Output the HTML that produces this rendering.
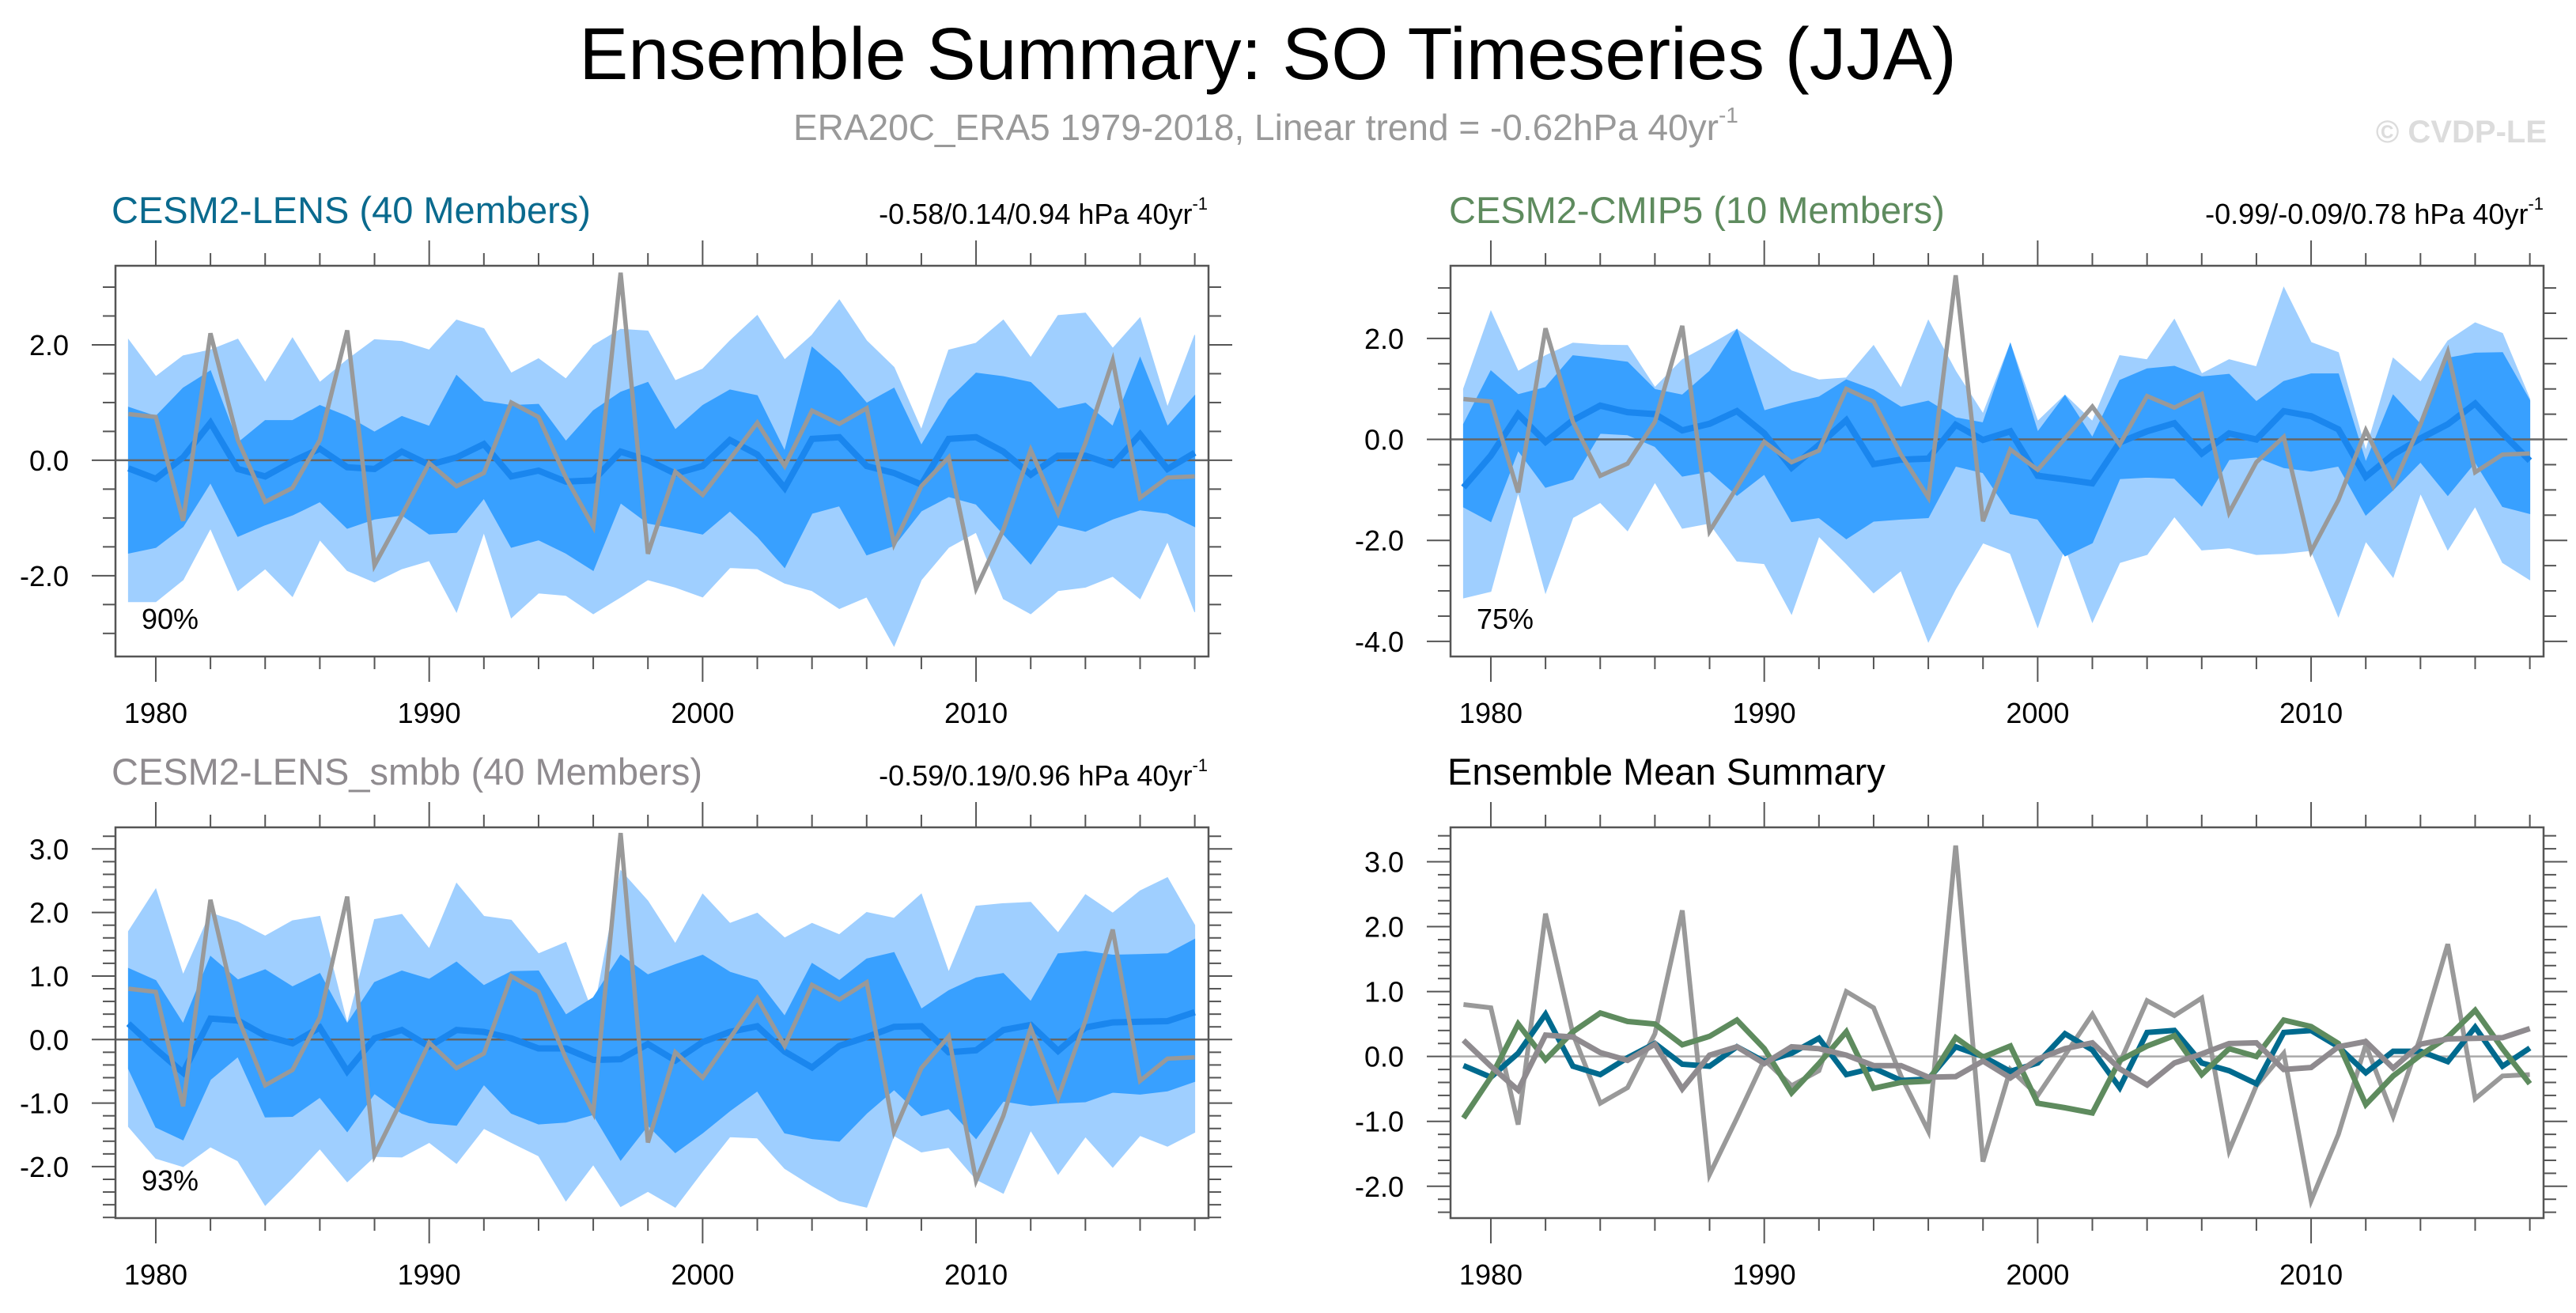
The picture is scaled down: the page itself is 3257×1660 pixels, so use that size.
<!DOCTYPE html>
<html><head><meta charset="utf-8"><style>
html,body{margin:0;padding:0;background:#fff;}
svg{display:block;font-family:"Liberation Sans",Arial,sans-serif;}
</style></head><body>
<svg id="chart" width="3257" height="1660" viewBox="0 0 3257 1660" xmlns="http://www.w3.org/2000/svg">
<rect width="3257" height="1660" fill="#fff"/>
<text x="1603" y="100" font-size="93" text-anchor="middle" fill="#000">Ensemble Summary: SO Timeseries (JJA)</text>
<text x="1003" y="177" font-size="46" fill="#999">ERA20C_ERA5 1979-2018, Linear trend = -0.62hPa 40yr<tspan font-size="28" dy="-22">-1</tspan></text>
<text x="3220" y="180" font-size="40" font-weight="bold" text-anchor="end" fill="#dcdcdc">© CVDP-LE</text>

<text x="141" y="282" font-size="47" fill="#0a6a8e">CESM2-LENS (40 Members)</text>
<text x="1527" y="283" font-size="36" text-anchor="end" fill="#000">-0.58/0.14/0.94 hPa 40yr<tspan font-size="22" dy="-18">-1</tspan></text>
<text x="1832" y="282" font-size="47" fill="#5e8b5e">CESM2-CMIP5 (10 Members)</text>
<text x="3216" y="283" font-size="36" text-anchor="end" fill="#000">-0.99/-0.09/0.78 hPa 40yr<tspan font-size="22" dy="-18">-1</tspan></text>
<text x="141" y="992" font-size="47" fill="#8f8b8f">CESM2-LENS_smbb (40 Members)</text>
<text x="1527" y="993" font-size="36" text-anchor="end" fill="#000">-0.59/0.19/0.96 hPa 40yr<tspan font-size="22" dy="-18">-1</tspan></text>
<text x="1830" y="992" font-size="47" fill="#000">Ensemble Mean Summary</text>
<g id="plots"></g>
</svg>
<script>
const years = [];
for (let yr = 1979; yr <= 2018; yr++) years.push(yr);
const obs = [0.8,0.75,-1.05,2.2,0.35,-0.72,-0.48,0.35,2.25,-1.82,-0.95,-0.05,-0.45,-0.22,1.0,0.75,-0.3,-1.15,3.25,-1.62,-0.2,-0.6,0.02,0.65,-0.1,0.86,0.63,0.9,-1.45,-0.45,0.05,-2.22,-1.2,0.18,-0.92,0.3,1.73,-0.65,-0.3,-0.28];
// CESM2-LENS
const lensMean = [-0.14,-0.32,0.05,0.65,-0.15,-0.28,-0.02,0.2,-0.12,-0.15,0.15,-0.08,0.05,0.28,-0.28,-0.18,-0.37,-0.35,0.15,0.0,-0.23,-0.1,0.35,0.1,-0.48,0.37,0.4,-0.1,-0.22,-0.42,0.37,0.4,0.15,-0.25,0.08,0.08,-0.08,0.45,-0.15,0.13];
const lensOuterHi = [2.09,1.45,1.81,1.91,2.1,1.35,2.12,1.35,1.74,2.09,2.06,1.91,2.43,2.28,1.51,1.76,1.41,1.99,2.27,2.24,1.38,1.58,2.07,2.51,1.74,2.17,2.78,2.07,1.61,0.53,1.91,2.03,2.43,1.78,2.51,2.55,1.94,2.47,0.92,2.17];
const lensInnerHi = [0.92,0.76,1.25,1.55,0.3,0.69,0.69,0.95,0.76,0.49,0.76,0.59,1.47,1.02,0.95,0.97,0.33,0.86,1.18,1.35,0.53,0.95,1.22,1.12,0.16,1.96,1.55,0.99,1.25,0.26,1.05,1.51,1.45,1.35,0.89,0.99,0.59,1.78,0.59,1.12];
const lensInnerLo = [-1.61,-1.51,-1.15,-0.39,-1.32,-1.12,-0.95,-0.72,-1.18,-1.02,-0.95,-1.28,-1.25,-0.66,-1.51,-1.38,-1.61,-1.91,-0.74,-1.09,-1.18,-1.28,-0.88,-1.32,-1.86,-0.92,-0.79,-1.64,-1.48,-0.88,-0.63,-0.76,-1.28,-1.8,-1.12,-1.23,-1.02,-0.86,-0.92,-1.15];
const lensOuterLo = [-2.45,-2.45,-2.07,-1.18,-2.26,-1.88,-2.36,-1.38,-1.91,-2.11,-1.88,-1.74,-2.63,-1.25,-2.73,-2.3,-2.34,-2.66,-2.37,-2.07,-2.2,-2.37,-1.86,-1.88,-2.13,-2.26,-2.57,-2.37,-3.22,-2.07,-1.51,-1.25,-2.4,-2.66,-2.26,-2.2,-2.01,-2.4,-1.41,-2.63];
// CESM2-CMIP5
const cmipMean = [-0.95,-0.32,0.5,-0.05,0.38,0.67,0.54,0.5,0.18,0.31,0.56,0.12,-0.56,-0.11,0.38,-0.49,-0.4,-0.38,0.29,-0.01,0.16,-0.72,-0.79,-0.87,-0.06,0.16,0.32,-0.28,0.12,0.0,0.56,0.46,0.2,-0.74,-0.3,0.02,0.3,0.71,0.12,-0.42];
const cmipOuterHi = [1.0,2.54,1.35,1.66,1.91,1.87,1.86,1.03,1.58,1.87,2.18,1.77,1.36,1.18,1.22,1.86,1.02,2.36,1.35,0.51,1.9,0.36,0.88,0.36,1.66,1.58,2.38,1.3,1.58,1.44,3.01,1.92,1.72,-0.22,1.61,1.14,1.95,2.31,2.1,0.8];
const cmipInnerHi = [0.3,1.36,0.89,1.03,1.66,1.6,1.53,0.99,0.88,1.35,2.18,0.57,0.72,0.84,1.18,0.98,0.64,0.76,0.43,0.33,1.9,0.15,0.87,0.04,1.17,1.4,1.45,1.24,1.29,0.75,1.15,1.3,1.3,-0.45,0.88,0.3,1.61,1.71,1.72,0.77];
const cmipInnerLo = [-1.34,-1.63,-0.22,-0.95,-0.79,0.12,0.09,-0.14,-0.73,-0.63,-1.11,-0.69,-1.63,-1.55,-1.97,-1.62,-1.58,-1.55,-0.53,-0.66,-1.47,-1.58,-2.31,-2.05,-0.78,-0.75,-0.77,-1.32,-0.4,-0.35,-0.56,-0.63,-0.53,-1.5,-1.0,-0.45,-1.11,-0.45,-1.33,-1.47];
const cmipOuterLo = [-3.14,-3.01,-1.05,-3.04,-1.55,-1.25,-1.81,-0.85,-1.76,-1.66,-2.41,-2.46,-3.46,-1.92,-2.46,-3.04,-2.6,-4.01,-2.96,-2.05,-2.26,-3.72,-2.13,-3.62,-2.44,-2.28,-1.53,-2.19,-2.15,-2.28,-2.26,-2.2,-3.51,-2.02,-2.73,-1.07,-2.19,-1.33,-2.44,-2.78];
// CESM2-LENS_smbb
const smbbMean = [0.25,-0.15,-0.52,0.33,0.3,0.06,-0.06,0.19,-0.5,0.02,0.15,-0.11,0.15,0.12,0.02,-0.14,-0.14,-0.32,-0.31,-0.07,-0.33,-0.04,0.12,0.21,-0.19,-0.44,-0.1,0.04,0.2,0.21,-0.2,-0.17,0.15,0.23,-0.18,0.19,0.27,0.28,0.29,0.43];
const smbbOuterHi = [1.7,2.37,1.02,1.99,1.85,1.63,1.87,1.94,0.25,1.89,1.97,1.43,2.46,1.94,1.88,1.35,1.53,0.39,2.66,2.18,1.51,2.29,1.83,1.99,1.6,1.83,1.65,2.0,1.91,2.29,1.06,2.1,2.14,2.16,1.68,2.28,1.99,2.34,2.55,1.8];
const smbbInnerHi = [1.12,0.93,0.25,1.31,0.94,1.1,0.83,1.04,0.25,0.9,1.08,0.95,1.22,0.85,1.07,1.08,0.39,0.66,1.33,1.02,1.18,1.33,1.06,0.93,0.37,1.2,0.93,1.27,1.37,0.48,0.77,0.97,1.04,0.6,1.35,1.39,1.33,1.34,1.35,1.58];
const smbbInnerLo = [-0.46,-1.38,-1.58,-0.63,-0.27,-1.22,-1.21,-0.91,-1.45,-0.85,-1.16,-1.31,-1.35,-0.71,-1.16,-1.33,-1.3,-1.18,-1.9,-1.35,-1.78,-1.47,-1.12,-0.81,-1.47,-1.56,-1.6,-1.16,-0.79,-1.2,-1.09,-1.56,-0.97,-1.04,-1.0,-0.98,-0.83,-0.86,-0.81,-0.66];
const smbbOuterLo = [-1.37,-1.87,-2.0,-1.69,-1.91,-2.61,-2.18,-1.72,-2.24,-1.84,-1.85,-1.62,-1.95,-1.4,-1.62,-1.83,-2.54,-1.97,-2.63,-2.39,-2.64,-2.07,-1.53,-1.55,-2.03,-2.3,-2.54,-2.64,-1.51,-1.77,-1.7,-2.2,-2.42,-1.43,-2.12,-1.53,-2.01,-1.51,-1.68,-1.46];
const xTickLabels = [1980,1990,2000,2010];

const NS = 'http://www.w3.org/2000/svg';
const root = document.getElementById('plots');
function mk(tag, attrs, parent){const e=document.createElementNS(NS,tag);for(const k in attrs)e.setAttribute(k,attrs[k]);(parent||root).appendChild(e);return e;}

function panel(cfg){
  const g = mk('g',{});
  
  
  const L=cfg.x, T=cfg.y, W=1382, H=494;
  const xs = yr => L + 16.4 + (yr-1979)*34.57;
  const ys = v => T + (cfg.ymax - v)/(cfg.ymax - cfg.ymin)*H;
  const pts = arr => arr.map((v,i)=>xs(years[i]).toFixed(1)+','+ys(v).toFixed(1));
  const band = (hi,lo,col,nm)=>{
    const p = pts(hi).concat(pts(lo).reverse());
    const e = mk('polygon',{points:p.join(' '),fill:col,stroke:col,'stroke-width':1},g);
    
    
  };
  const line = (arr,col,w,nm)=>{
    const e = mk('polyline',{points:pts(arr).join(' '),fill:'none',stroke:col,'stroke-width':w,'stroke-linejoin':'miter'},g);
    
    
  };
  if(cfg.bands){
    band(cfg.bands[0],cfg.bands[3],'#9fcfff','outer-percentile-band');
    band(cfg.bands[1],cfg.bands[2],'#38a0ff','inner-percentile-band');
  }
  const z = mk('line',{x1:L,x2:L+W,y1:ys(0),y2:ys(0),stroke:cfg.bands?'#666':'#aaa','stroke-width':2.5},g);
  
  
  cfg.lines.forEach(l=>line(l[0],l[1],l[2],l[3]));
  const fr = mk('rect',{x:L,y:T,width:W,height:H,fill:'none',stroke:'#555','stroke-width':2.5},g);
  
  
  for(let yr=1980; yr<=2018; yr+=2){
    const maj = yr%10===0, len = maj?32:16, x=xs(yr);
    mk('line',{x1:x,x2:x,y1:T,y2:T-len,stroke:'#555','stroke-width':2},g);
    mk('line',{x1:x,x2:x,y1:T+H,y2:T+H+len,stroke:'#555','stroke-width':2},g);
  }
  xTickLabels.forEach(yr=>{
    const t = mk('text',{x:xs(yr),y:T+H+84,'font-size':36,'text-anchor':'middle',fill:'#000'},g);
    t.textContent = yr;
    
    
  });
  const nMin = Math.ceil(cfg.ymin/cfg.minor-1e-6), nMax = Math.floor(cfg.ymax/cfg.minor+1e-6);
  for(let n=nMin;n<=nMax;n++){
    const v = n*cfg.minor, y=ys(v);
    const maj = Math.abs(v/cfg.major - Math.round(v/cfg.major))<1e-6;
    const len = maj?30:16;
    mk('line',{x1:L,x2:L-len,y1:y,y2:y,stroke:'#555','stroke-width':2},g);
    mk('line',{x1:L+W,x2:L+W+len,y1:y,y2:y,stroke:'#555','stroke-width':2},g);
    if(maj){
      const t = mk('text',{x:L-59,y:y+13,'font-size':36,'text-anchor':'end',fill:'#000'},g);
      t.textContent = v.toFixed(1);
      
      
    }
  }
  if(cfg.pct){
    const t = mk('text',{x:L+33,y:T+459,'font-size':36,fill:'#000'},g);
    t.textContent = cfg.pct;
    
    
  }
}

panel({name:'panel-cesm2-lens',x:146,y:336,ymax:3.37,ymin:-3.4,major:2,minor:0.5,pct:'90%',
  bands:[lensOuterHi,lensInnerHi,lensInnerLo,lensOuterLo],
  lines:[[lensMean,'#1a86ee',8,'ensemble-mean-line'],[obs,'#999',5.5,'observation-line']]});
panel({name:'panel-cesm2-cmip5',x:1834,y:336,ymax:3.44,ymin:-4.3,major:2,minor:0.5,pct:'75%',
  bands:[cmipOuterHi,cmipInnerHi,cmipInnerLo,cmipOuterLo],
  lines:[[cmipMean,'#1a86ee',8,'ensemble-mean-line'],[obs,'#999',5.5,'observation-line']]});
panel({name:'panel-cesm2-lens-smbb',x:146,y:1046,ymax:3.34,ymin:-2.81,major:1,minor:0.2,pct:'93%',
  bands:[smbbOuterHi,smbbInnerHi,smbbInnerLo,smbbOuterLo],
  lines:[[smbbMean,'#1a86ee',8,'ensemble-mean-line'],[obs,'#999',5.5,'observation-line']]});
panel({name:'panel-ensemble-mean-summary',x:1834,y:1046,ymax:3.53,ymin:-2.49,major:1,minor:0.2,
  lines:[[obs,'#999',6,'observation-line'],[lensMean,'#006a8e',7,'cesm2-lens-mean-line'],[cmipMean,'#5e8b5e',7,'cesm2-cmip5-mean-line'],[smbbMean,'#8f8b8f',7,'cesm2-lens-smbb-mean-line']]});
</script>
</body></html>
